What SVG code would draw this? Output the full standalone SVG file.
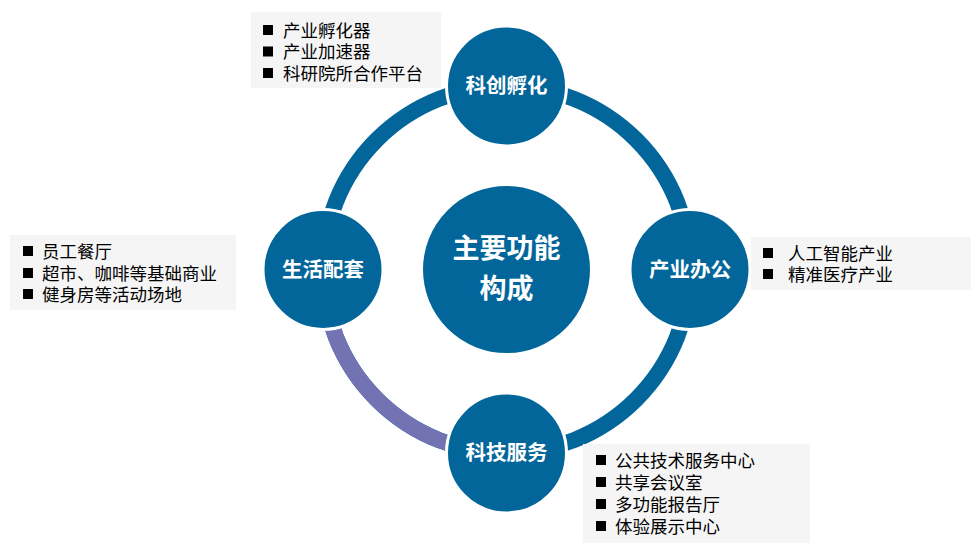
<svg xmlns="http://www.w3.org/2000/svg" width="977" height="546" viewBox="0 0 977 546">
<style>
.node{fill:#03669A;stroke:#ffffff;stroke-width:3}
.lbl{fill:#ffffff;font-family:"Noto Sans CJK SC","Noto Sans",sans-serif;font-weight:700;font-size:20.5px;text-anchor:middle}
.big{font-size:27px}
.box{fill:#F5F5F5}
.t{fill:#000000;font-family:"Noto Sans CJK SC","Noto Sans",sans-serif;font-size:17.5px}
.b{fill:#000000}
</style>
<rect width="977" height="546" fill="#ffffff"/>
<g id="connectors" fill="none" stroke-width="16">
<circle cx="506.5" cy="269.5" r="183.5" stroke="#03669A"/>
<path d="M323,269.5 A183.5,183.5 0 0 0 506.5,453" stroke="#7373B3"/>
</g>
<g id="center">
<circle class="node" cx="506.5" cy="269.5" r="85"/>
<text class="lbl big" x="506.5" y="258">主要功能</text>
<text class="lbl big" x="506.5" y="298">构成</text>
</g>
<g id="n-top">
<circle class="node" cx="506.5" cy="86" r="60"/>
<text class="lbl" x="506.5" y="93">科创孵化</text>
</g>
<g id="n-left">
<circle class="node" cx="323" cy="269.5" r="60"/>
<text class="lbl" x="323" y="276.5">生活配套</text>
</g>
<g id="n-right">
<circle class="node" cx="690" cy="269.5" r="60"/>
<text class="lbl" x="690" y="276.5">产业办公</text>
</g>
<g id="n-bottom">
<circle class="node" cx="506.5" cy="453" r="60"/>
<text class="lbl" x="506.5" y="460">科技服务</text>
</g>
<g id="list-top">
<rect class="box" x="251" y="12" width="190" height="76"/>
<rect class="b" x="263" y="25" width="10" height="10"/>
<rect class="b" x="263" y="46.5" width="10" height="10"/>
<rect class="b" x="263" y="68" width="10" height="10"/>
<text class="t"><tspan x="283" y="36.5">产业孵化器</tspan><tspan x="283" y="58">产业加速器</tspan><tspan x="283" y="79.5">科研院所合作平台</tspan></text>
</g>
<g id="list-left">
<rect class="box" x="10" y="235" width="226" height="75"/>
<rect class="b" x="23" y="246" width="10" height="10"/>
<rect class="b" x="23" y="268" width="10" height="10"/>
<rect class="b" x="23" y="289" width="10" height="10"/>
<text class="t"><tspan x="42" y="257.5">员工餐厅</tspan><tspan x="42" y="279.5">超市、咖啡等基础商业</tspan><tspan x="42" y="300.5">健身房等活动场地</tspan></text>
</g>
<g id="list-right">
<rect class="box" x="751" y="237" width="220" height="53"/>
<rect class="b" x="763" y="248" width="10" height="10"/>
<rect class="b" x="763" y="269" width="10" height="10"/>
<text class="t"><tspan x="788" y="259.5">人工智能产业</tspan><tspan x="788" y="280.5">精准医疗产业</tspan></text>
</g>
<g id="list-bottom">
<rect class="box" x="583" y="444" width="227" height="99"/>
<rect class="b" x="596" y="455" width="10" height="10"/>
<rect class="b" x="596" y="477" width="10" height="10"/>
<rect class="b" x="596" y="499" width="10" height="10"/>
<rect class="b" x="596" y="521" width="10" height="10"/>
<text class="t"><tspan x="615" y="466.5">公共技术服务中心</tspan><tspan x="615" y="488.5">共享会议室</tspan><tspan x="615" y="510.5">多功能报告厅</tspan><tspan x="615" y="532.5">体验展示中心</tspan></text>
</g>
</svg>
